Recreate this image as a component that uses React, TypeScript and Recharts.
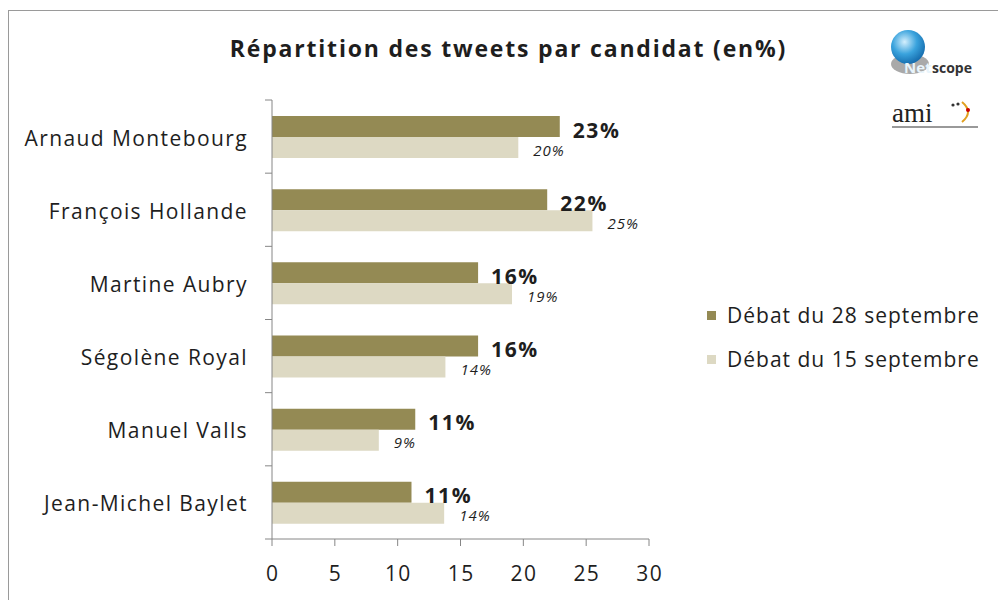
import { BarChart, Bar, XAxis, YAxis, Legend, LabelList } from 'recharts';

const CANDIDATES = ['Arnaud Montebourg', 'François Hollande', 'Martine Aubry', 'Ségolène Royal', 'Manuel Valls', 'Jean-Michel Baylet'];
const DEBAT_28 = [22.9, 21.9, 16.4, 16.4, 11.4, 11.1];
const DEBAT_15 = [19.6, 25.5, 19.1, 13.8, 8.5, 13.7];
const LABELS_28 = ['23%', '22%', '16%', '16%', '11%', '11%'];
const LABELS_15 = ['20%', '25%', '19%', '14%', '9%', '14%'];
const X_TICKS = [0, 5, 10, 15, 20, 25, 30];
const SERIES = [
  { key: 'd28', name: 'Débat du 28 septembre', color: '#948A54' },
  { key: 'd15', name: 'Débat du 15 septembre', color: '#DDD9C3' },
];

const W = 998;
const H = 600;
const TOP = 100;
const XAXIS_H = 61;
const YAXIS_W = 272;
const BAND = (H - TOP - XAXIS_H) / CANDIDATES.length;
const FONT = '"Open Sans", Lato, sans-serif';
const AXIS = '#868686';
const TEXT = '#1e1e1e';

const data = CANDIDATES.map((name, i) => ({
  name,
  d28: DEBAT_28[i],
  d15: DEBAT_15[i],
  l28: LABELS_28[i],
  l15: LABELS_15[i],
}));

function CatTick(props: any) {
  const { x, y, payload, index } = props;
  const ax = x + 24;
  return (
    <g>
      <line x1={ax - 7} x2={ax} y1={y - BAND / 2} y2={y - BAND / 2} stroke={AXIS} />
      {index === CANDIDATES.length - 1 && (
        <line x1={ax - 7} x2={ax} y1={y + BAND / 2} y2={y + BAND / 2} stroke={AXIS} />
      )}
      <text x={x} y={y + 1} textAnchor="end" dominantBaseline="central" fontSize={21} fill={TEXT} fontFamily={FONT} letterSpacing={1.4}>
        {payload.value}
      </text>
    </g>
  );
}

function XTick(props: any) {
  const { x, y, payload } = props;
  return (
    <text x={x + 0.7} y={y} dy="0.71em" textAnchor="middle" fontSize={21} fill={TEXT} fontFamily={FONT} letterSpacing={1.4}>
      {payload.value}
    </text>
  );
}

function BoldLabel(props: any) {
  const { x, y, width, height, value } = props;
  return (
    <text x={x + width + 13} y={y + height / 2 + 3} dominantBaseline="central" fontSize={21} fontWeight="bold" fill={TEXT} fontFamily={FONT} letterSpacing={1.6}>
      {value}
    </text>
  );
}

function ItalicLabel(props: any) {
  const { x, y, width, height, value } = props;
  return (
    <text x={x + width + 15} y={y + height / 2 + 2} dominantBaseline="central" fontSize={15} fontStyle="italic" fill={TEXT} fontFamily={FONT} letterSpacing={1}>
      {value}
    </text>
  );
}

function LegendBox() {
  return (
    <div style={{ fontFamily: FONT, fontSize: 21, color: TEXT, letterSpacing: 1 }}>
      {SERIES.map((s) => (
        <div key={s.key} style={{ display: 'flex', alignItems: 'center', height: 44, whiteSpace: 'nowrap' }}>
          <span style={{ width: 9, height: 9, background: s.color, marginRight: 11, display: 'inline-block' }} />
          <span>{s.name}</span>
        </div>
      ))}
    </div>
  );
}

function Logo() {
  return (
    <svg width={110} height={110} style={{ position: 'absolute', left: 880, top: 28 }}>
      <defs>
        <radialGradient id="sph" cx="40%" cy="35%" r="65%">
          <stop offset="0%" stopColor="#d4effd" />
          <stop offset="55%" stopColor="#3aa3dd" />
          <stop offset="100%" stopColor="#176fb0" />
        </radialGradient>
      </defs>
      <ellipse cx={30} cy={36} rx={19} ry={10} fill="#8c8c8c" opacity={0.75} />
      <circle cx={28} cy={19} r={17} fill="url(#sph)" />
      <text x={24} y={45} fontSize={15} fontWeight="bold" fill="#e8f4fb" fontFamily={FONT}>Net</text>
      <text x={52} y={45} fontSize={14} fontWeight="bold" fill="#333" fontFamily={FONT}>scope</text>
      <text x={12} y={94} fontSize={27} fill="#222" fontFamily='"Liberation Serif", serif'>ami</text>
      <circle cx={73} cy={77} r={1.6} fill="#333" />
      <circle cx={78} cy={76} r={1.6} fill="#333" />
      <path d="M82 74 Q94 84 82 94" stroke="#e0a020" strokeWidth={2} fill="none" />
      <circle cx={88} cy={82} r={2} fill="#c00" />
      <rect x={12} y={98} width={86} height={2} fill="#999" />
    </svg>
  );
}

export default function App() {
  return (
    <div style={{ position: 'absolute', left: 0, top: 0, width: W, height: H, background: '#fff', overflow: 'hidden' }}>
      <div style={{ position: 'absolute', left: 8, top: 10, width: 990, height: 590, borderLeft: '1px solid #9a9a9a', borderTop: '1px solid #9a9a9a' }} />
      <div style={{ position: 'absolute', left: 0, width: 1017, top: 32, textAlign: 'center', fontFamily: FONT, fontWeight: 'bold', fontSize: 23, letterSpacing: 1.8, color: TEXT, whiteSpace: 'nowrap' }}>
        Répartition des tweets par candidat (en%)
      </div>
      <Logo />
      <div style={{ position: 'absolute', left: 0, top: 0 }}>
        <BarChart width={W} height={H} data={data} layout="vertical" margin={{ top: TOP, right: 349, left: 0, bottom: 0 }} barSize={21} barGap={0}>
          <XAxis type="number" domain={[0, 30]} ticks={X_TICKS} height={XAXIS_H} stroke={AXIS} tickSize={7} tickMargin={20}
            tick={(p: any) => <XTick {...p} />} interval={0} />
          <YAxis type="category" dataKey="name" width={YAXIS_W} stroke={AXIS} tickLine={false} tickSize={0} tickMargin={24}
            tick={(p: any) => <CatTick {...p} />} interval={0} />
          <Legend layout="horizontal" verticalAlign="middle" align="center" content={() => <LegendBox />}
            wrapperStyle={{ position: 'absolute', left: 707, top: 293, width: 290 }} />
          <Bar dataKey="d28" name={SERIES[0].name} fill={SERIES[0].color} isAnimationActive={false}>
            <LabelList dataKey="l28" content={(p: any) => <BoldLabel {...p} />} />
          </Bar>
          <Bar dataKey="d15" name={SERIES[1].name} fill={SERIES[1].color} isAnimationActive={false}>
            <LabelList dataKey="l15" content={(p: any) => <ItalicLabel {...p} />} />
          </Bar>
        </BarChart>
      </div>
    </div>
  );
}
